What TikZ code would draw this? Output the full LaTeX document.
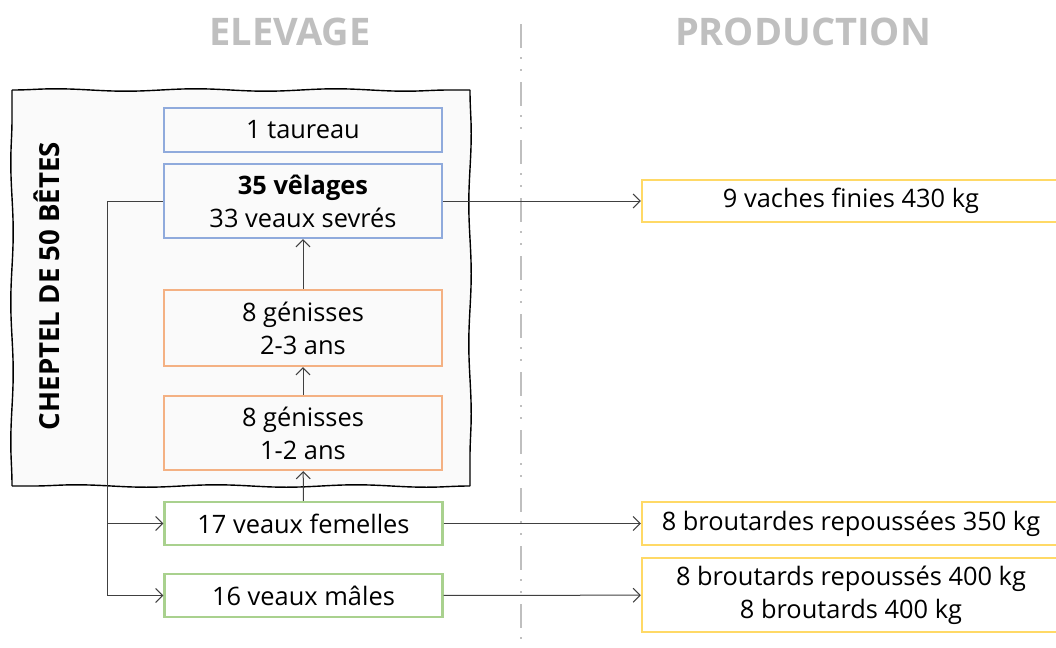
\documentclass[tikz,border=0pt]{standalone}
\usepackage{fontspec}
\setmainfont{Open Sans}
\usetikzlibrary{arrows.meta,decorations.pathmorphing}
\definecolor{boxblue}{HTML}{8FAADC}
\definecolor{boxorange}{HTML}{F4B183}
\definecolor{boxgreen}{HTML}{A9D18E}
\definecolor{boxyellow}{HTML}{FFD966}
\definecolor{titlegray}{HTML}{BFBFBF}
\definecolor{linkgray}{HTML}{404040}
\tikzset{
  cell/.style={draw=#1, line width=1.2pt, minimum width=139pt, align=center,
    inner sep=0pt, font=\fontsize{12.7}{16.5}\selectfont},
  outcell/.style={cell=boxyellow, minimum width=209pt},
  link/.style={->, draw=linkgray, line width=0.5pt},
  coltitle/.style={text=titlegray, font=\fontsize{19}{19}\bfseries\selectfont},
  wobbly/.style={line width=0.7pt, decorate,
    decoration={snake, amplitude=0.6pt, segment length=70pt}}
}
\begin{document}
\begin{tikzpicture}[x=0.5pt,y=-0.5pt,>={Straight Barb[length=3.5pt,width=7pt]}]
  \useasboundingbox (0,0) rectangle (1056,648);
  % titres des colonnes
  \node[coltitle] (elevage) at (290,32) {ELEVAGE};
  \node[coltitle] (production) at (803,32) {PRODUCTION};
  \draw[titlegray, line width=1.2pt, dash pattern=on 12pt off 4.5pt on 1pt off 5pt on 1pt off 5.5pt]
    (521,24) -- (521,642);
  % cheptel
  \fill[black!2] (12,90) rectangle (470,486);
  \draw[wobbly] (12,90) -- (470,90);
  \draw[wobbly] (470,90) -- (470,486);
  \draw[wobbly] (470,486) -- (12,486);
  \draw[wobbly] (12,486) -- (12,90);
  \node[rotate=90, font=\fontsize{13.8}{14}\bfseries\selectfont] (cheptel) at (47,286) {CHEPTEL DE 50 BÊTES};
  \node[cell=boxblue, minimum height=22pt] (taureau) at (303,130) {1 taureau};
  \node[cell=boxblue, minimum height=37pt] (velages) at (303,201) {\textbf{35 vêlages}\\33 veaux sevrés};
  \node[cell=boxorange, minimum height=38pt] (gen23) at (303,328) {8 génisses\\2-3 ans};
  \node[cell=boxorange, minimum height=37pt] (gen12) at (303,433) {8 génisses\\1-2 ans};
  \node[cell=boxgreen, minimum height=21.5pt] (femelles) at (303.5,523.5) {17 veaux femelles};
  \node[cell=boxgreen, minimum height=21.5pt] (males) at (303.5,595.5) {16 veaux mâles};
  % production
  \node[outcell, minimum height=21pt] (vaches) at (851,201) {9 vaches finies 430 kg};
  \node[outcell, minimum height=21.5pt] (broutardes) at (851,523.5) {8 broutardes repoussées 350 kg};
  \node[outcell, minimum height=37pt] (broutards) at (851,595) {8 broutards repoussés 400 kg\\8 broutards 400 kg};
  % liens
  \coordinate (split) at (107,201);
  \draw[link] (velages) -- (vaches);
  \draw[link] (gen23) -- (velages);
  \draw[link] (gen12) -- (gen23);
  \draw[link] (femelles) -- (gen12);
  \draw[link] (velages.west) -- (split) |- (femelles.west);
  \draw[link] (split) |- (males.west);
  \draw[link] (femelles) -- (broutardes);
  \draw[link] (males) -- (broutards);
\end{tikzpicture}
\end{document}
